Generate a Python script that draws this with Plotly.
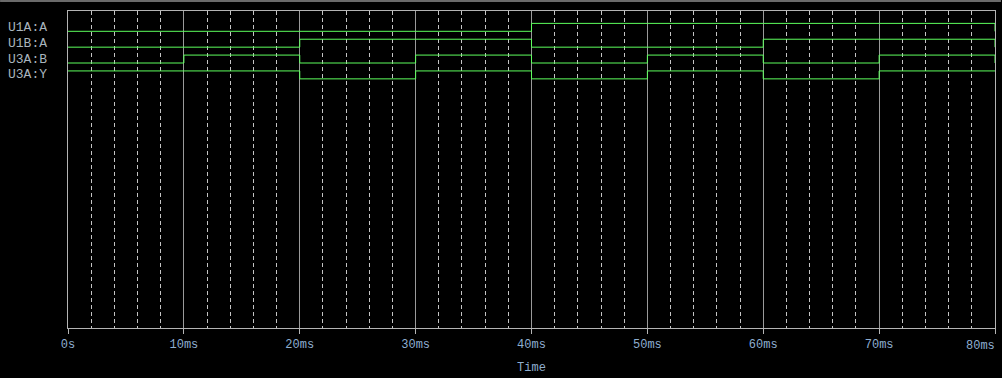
import plotly.graph_objects as go

# ---- data ----
times_ms = [0, 10, 20, 30, 40, 50, 60, 70, 80]
signal_names = ["U1A:A", "U1B:A", "U3A:B", "U3A:Y"]
u1a_a = [0, 0, 0, 0, 1, 1, 1, 1, 0]
u1b_a = [0, 0, 1, 1, 0, 0, 1, 1, 0]
u3a_b = [0, 1, 0, 1, 0, 1, 0, 1, 0]
u3a_y = [1, 1, 0, 1, 0, 1, 0, 1, 1]
signals = [u1a_a, u1b_a, u3a_b, u3a_y]
tick_vals = [0, 10, 20, 30, 40, 50, 60, 70, 80]
tick_labels = ["0s", "10ms", "20ms", "30ms", "40ms", "50ms", "60ms", "70ms", "80ms"]

# ---- layout constants (digital display rows) ----
ROW_BASE = 20.5    # low level of first row (units = px below plot top)
ROW_PITCH = 16
AMP = 8
GREEN = "#5dff5d"
FONT = "Liberation Mono"
TICK_COLOR = "#8eaed0"

fig = go.Figure()
for i, (name, vals) in enumerate(zip(signal_names, signals)):
    ys = [ROW_BASE + ROW_PITCH * i - AMP * v for v in vals]
    fig.add_trace(go.Scatter(
        x=times_ms, y=ys, mode="lines", line=dict(color=GREEN, width=1, shape="hv"),
        name=name, showlegend=False, hoverinfo="skip"))
    fig.add_annotation(
        x=-60 / 928, xref="paper", xanchor="left", xshift=-2,
        y=ROW_BASE + ROW_PITCH * i - AMP / 2, yref="y", yanchor="middle",
        text=name, showarrow=False,
        font=dict(family=FONT, size=13, color="#a9b4bd"))

# last tick label is right-aligned to the plot edge (as in the original viewer)
fig.add_annotation(
    x=tick_vals[-1], xref="x", xanchor="right", xshift=2,
    y=0, yref="paper", yanchor="top", yshift=-9,
    text=tick_labels[-1], showarrow=False,
    font=dict(family=FONT, size=12, color=TICK_COLOR))

# top gray bar of the window
fig.add_shape(type="line", xref="paper", yref="paper",
              x0=-68 / 928, x1=1 + 6 / 928, y0=1 + 10 / 320, y1=1 + 10 / 320,
              line=dict(color="#6a6a6a", width=2))

fig.update_layout(
    width=1002, height=378,
    margin=dict(l=68, r=6, t=11, b=47),
    paper_bgcolor="black", plot_bgcolor="black",
    font=dict(family=FONT, size=12, color=TICK_COLOR),
    xaxis=dict(
        range=[0, 80], tickvals=tick_vals, ticktext=tick_labels[:-1] + [""],
        showgrid=True, gridcolor="#9a9a9a", gridwidth=1,
        showline=True, linecolor="#b4b4b4", linewidth=1, mirror=True,
        ticks="outside", ticklen=5, tickcolor="#b4b4b4",
        tickfont=dict(family=FONT, size=12, color=TICK_COLOR),
        minor=dict(dtick=2, showgrid=True, gridcolor="#c4c4c4",
                   griddash="4px,3px", gridwidth=1, ticks=""),
        title=dict(text="Time", standoff=11,
                   font=dict(family=FONT, size=12, color=TICK_COLOR)),
        zeroline=False, fixedrange=True,
    ),
    yaxis=dict(
        range=[320, 0], showgrid=False, showticklabels=False, ticks="",
        showline=True, linecolor="#b4b4b4", linewidth=1, mirror=True,
        zeroline=False, fixedrange=True,
    ),
)

fig.write_html("out.html")
